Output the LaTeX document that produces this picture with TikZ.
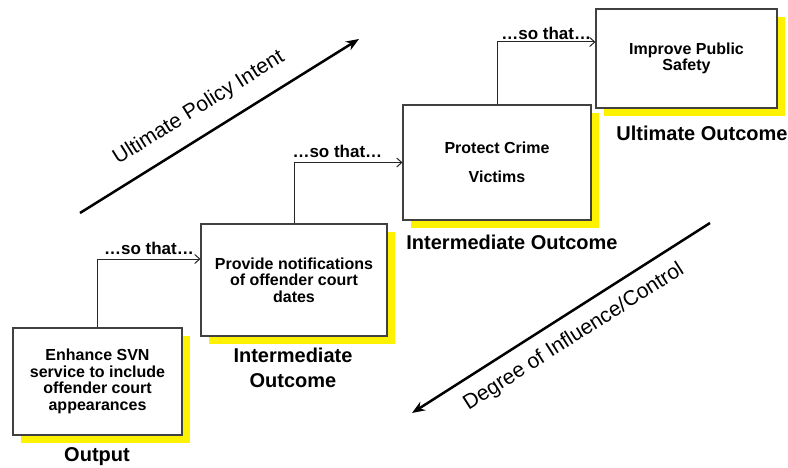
\documentclass[tikz,border=0pt]{standalone}
\usepackage{fontspec}
\setmainfont{Liberation Sans}
\usepackage{tikz}
\usetikzlibrary{arrows.meta,shadows}
\newcommand{\shadowoff}{8pt}

\begin{document}
\begin{tikzpicture}[x=1pt, y=-1pt]
            \tikzset{resultbox/.style = {draw=black!75, line width=1.1pt, fill=white, align=center, inner sep=2pt,
                     font=\fontsize{16}{16.5}\selectfont\bfseries,
                     drop shadow={fill=yellow, opacity=1, shadow xshift=\shadowoff, shadow yshift=-\shadowoff}}}
            \tikzset{link/.style = {draw=black!85, line width=1pt, -{Straight Barb[length=5pt,width=9pt]}}}
            \tikzset{sothat/.style = {font=\fontsize{17}{17}\selectfont\bfseries, inner sep=1pt}}
            \tikzset{levelname/.style = {font=\fontsize{20}{25}\selectfont\bfseries, align=center, inner sep=0pt}}
            \tikzset{trend/.style = {line width=2.5pt, -{Stealth[length=13pt,width=10pt]}}}
            \tikzset{trendname/.style = {font=\fontsize{21}{21}\selectfont, inner sep=0pt}}
            \useasboundingbox (0,0) rectangle (788,468);

            % the four steps of the chain
            \node[resultbox, minimum width=169pt, minimum height=107pt] (svn) at (97.5,381.5)
                {Enhance SVN\\service to include\\offender court\\appearances};
            \node[resultbox, minimum width=186pt, minimum height=112pt] (notify) at (294,280)
                {Provide notifications\\of offender court\\dates};
            \node[resultbox, minimum width=188pt, minimum height=115pt] (victims) at (497,162.5)
                {Protect Crime\\[13pt]Victims};
            \node[resultbox, minimum width=181pt, minimum height=99pt] (safety) at (686.5,58.5)
                {Improve Public\\Safety};

            \node[levelname] (svnname) at (97,457) {Output};
            \node[levelname] (notifyname) at (293,368) {Intermediate\\Outcome};
            \node[levelname] (victimsname) at (512,242) {Intermediate Outcome};
            \node[levelname] (safetyname) at (702,133) {Ultimate Outcome};

            \draw[link] (svn.north) |- ([yshift=21pt]notify.west)
                node[sothat, pos=0.75, above=3pt] {…so that…};
            \draw[link] (notify.north) |- (victims.west)
                node[sothat, pos=0.7, above=3pt] {…so that…};
            \draw[link] (victims.north) |- ([yshift=16.5pt]safety.west)
                node[sothat, pos=0.75, above=1pt] {…so that…};

            % the two trends
            \coordinate (intentstart) at (80,213);
            \coordinate (intentend) at (359,39);
            \draw[trend] (intentstart) -- (intentend);
            \node[trendname, rotate=32] (intent) at (199,108) {Ultimate Policy Intent};

            \coordinate (controlstart) at (710,223);
            \coordinate (controlend) at (412,413);
            \draw[trend] (controlstart) -- (controlend);
            \node[trendname, rotate=32.5] (control) at (574,337) {Degree of Influence/Control};
            %\draw (0,0) rectangle (788,468);
\end{tikzpicture}
\end{document}
